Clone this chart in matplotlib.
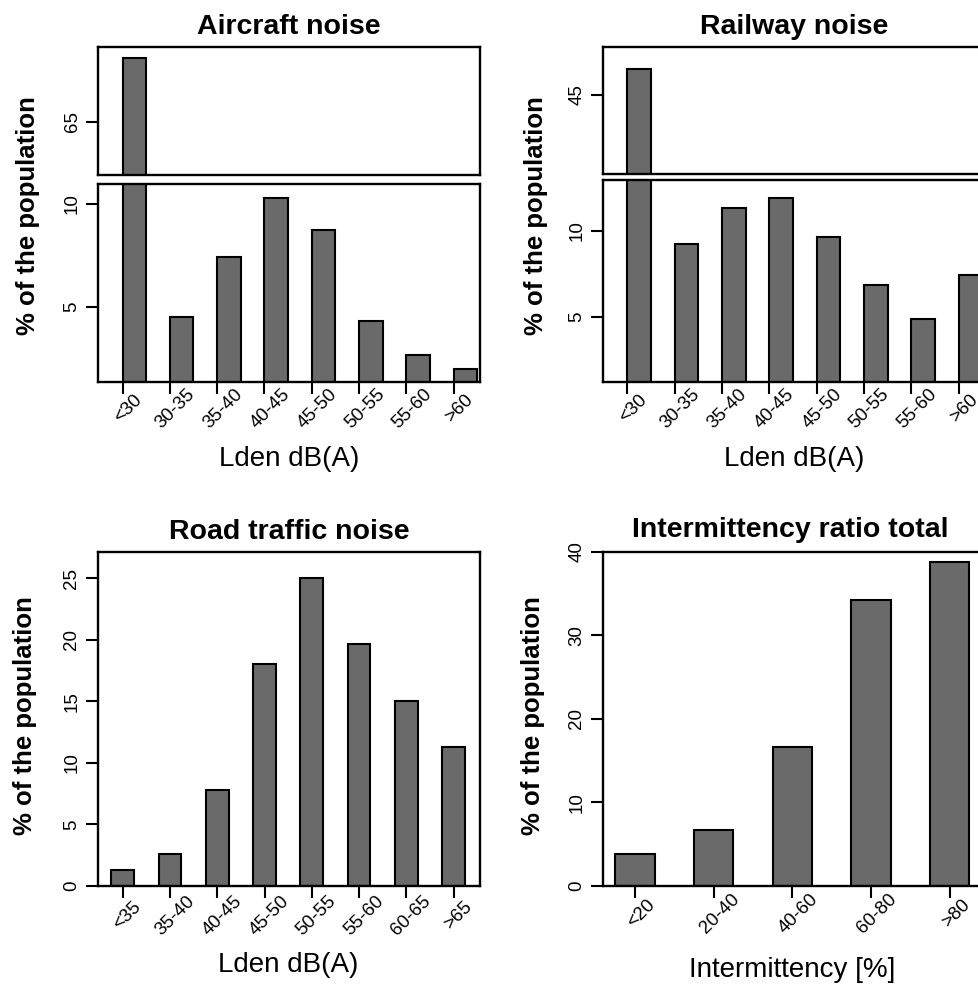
import matplotlib
matplotlib.use('Agg')
import matplotlib.pyplot as plt
import matplotlib.transforms as mtransforms

W, H = 979, 984

aircraft_labels = ['<30', '30-35', '35-40', '40-45', '45-50', '50-55', '55-60', '>60']
aircraft_values = [68.1, 4.53, 7.44, 10.28, 8.74, 4.32, 2.66, 1.98]

railway_labels = ['<30', '30-35', '35-40', '40-45', '45-50', '50-55', '55-60', '>60']
railway_values = [46.5, 9.21, 11.29, 11.87, 9.65, 6.86, 4.90, 7.44]

road_labels = ['<35', '35-40', '40-45', '45-50', '50-55', '55-60', '60-65', '>65']
road_values = [1.30, 2.60, 7.80, 18.0, 25.05, 19.63, 15.05, 11.29]

inter_labels = ['<20', '20-40', '40-60', '60-80', '>80']
inter_values = [3.83, 6.70, 16.59, 34.2, 38.8]

BAR = '#6a6a6a'
TITLE_SIZE = 20.5
XLAB_SIZE = 20
YLAB_SIZE = 18.5
TICK_SIZE = 13.5
plt.rcParams['font.family'] = ['Liberation Sans', 'DejaVu Sans']

fig = plt.figure(figsize=(W / 100, H / 100), dpi=100)

def px_axes(left, top, right, bottom):
  return fig.add_axes([left / W, 1 - bottom / H, (right - left) / W, (bottom - top) / H])

def style(ax):
  for sp in ax.spines.values():
    sp.set_linewidth(1.7)
    sp.set_color('black')
  ax.tick_params(axis='both', direction='out', length=8.5, width=1.5, labelsize=TICK_SIZE, pad=4)
  for lab in ax.get_yticklabels():
    lab.set_rotation(90)
    lab.set_va('center')

def xlabels(ax, labels, dx, dy_px):
  trans = mtransforms.blended_transform_factory(ax.transData, ax.transAxes)
  off = mtransforms.offset_copy(trans, fig=fig, x=0, y=-dy_px, units='dots')
  for i, lab in enumerate(labels):
    ax.text(i + dx, 0, lab, rotation=45, ha='center', va='center', rotation_mode='anchor',
            fontsize=TICK_SIZE, transform=off)

def ylabel(x_px, y_px):
  fig.text(x_px / W, 1 - y_px / H, '% of the population', rotation=90, ha='center', va='center',
           fontsize=YLAB_SIZE, fontweight='bold')

def broken_panel(box, labels, values, top_lim, low_lim, top_ticks, low_ticks, title, xlab):
  left, top, right, top_bottom, low_top, bottom = box
  ax_top = px_axes(left, top, right, top_bottom)
  ax_low = px_axes(left, low_top, right, bottom)
  x = list(range(len(values)))
  for ax, lim, ticks in [(ax_top, top_lim, top_ticks), (ax_low, low_lim, low_ticks)]:
    ax.bar(x, values, width=0.5, align='edge', color=BAR, edgecolor='black', linewidth=1.5)
    ax.set_xlim(-0.52, 7.56)
    ax.set_ylim(*lim)
    ax.set_yticks(ticks)
    ax.set_xticks([])
    style(ax)
  ax_low.set_xticks(x)
  ax_low.set_xticklabels([])
  xlabels(ax_low, labels, 0.12, 27)
  cx = (left + right) / 2
  fig.text(cx / W, 1 - 27 / H, title, ha='center', va='center', fontsize=TITLE_SIZE, fontweight='bold')
  fig.text(cx / W, 1 - 459 / H, xlab, ha='center', va='center', fontsize=XLAB_SIZE)
  return ax_top, ax_low

# Aircraft
broken_panel((98, 47, 480, 175, 184, 382), aircraft_labels, aircraft_values,
             (62.41, 68.63), (1.36, 10.97), [65], [5, 10], 'Aircraft noise', 'Lden dB(A)')
ylabel(28, 216)

# Railway
broken_panel((602.7, 46.7, 985, 174, 180, 381.7), railway_labels, railway_values,
             (40.44, 47.79), (1.28, 12.92), [45], [5, 10], 'Railway noise', 'Lden dB(A)')
ylabel(536, 216)

# Road traffic
ax = px_axes(97.7, 551.7, 480, 886)
x = list(range(len(road_values)))
ax.bar(x, road_values, width=0.48, color=BAR, edgecolor='black', linewidth=1.5)
ax.set_xlim(-0.53, 7.56)
ax.set_ylim(0, 27.16)
ax.set_yticks([0, 5, 10, 15, 20, 25])
ax.set_xticks(x)
ax.set_xticklabels([])
style(ax)
xlabels(ax, road_labels, 0.1, 30)
fig.text(289 / W, 1 - 532 / H, 'Road traffic noise', ha='center', va='center',
         fontsize=TITLE_SIZE, fontweight='bold')
fig.text(288 / W, 1 - 965 / H, 'Lden dB(A)', ha='center', va='center', fontsize=XLAB_SIZE)
ylabel(25, 716)

# Intermittency
ax = px_axes(602.7, 551.7, 982, 886)
x = list(range(len(inter_values)))
ax.bar(x, inter_values, width=0.5, color=BAR, edgecolor='black', linewidth=1.5)
ax.set_xlim(-0.41, 4.41)
ax.set_ylim(0, 40)
ax.set_yticks([0, 10, 20, 30, 40])
ax.set_xticks(x)
ax.set_xticklabels([])
style(ax)
xlabels(ax, inter_labels, 0.08, 28)
fig.text(790 / W, 1 - 530 / H, 'Intermittency ratio total', ha='center', va='center',
         fontsize=TITLE_SIZE, fontweight='bold')
fig.text(792 / W, 1 - 970 / H, 'Intermittency [%]', ha='center', va='center', fontsize=XLAB_SIZE)
ylabel(533, 716)

fig.savefig('out.png', dpi=100)
